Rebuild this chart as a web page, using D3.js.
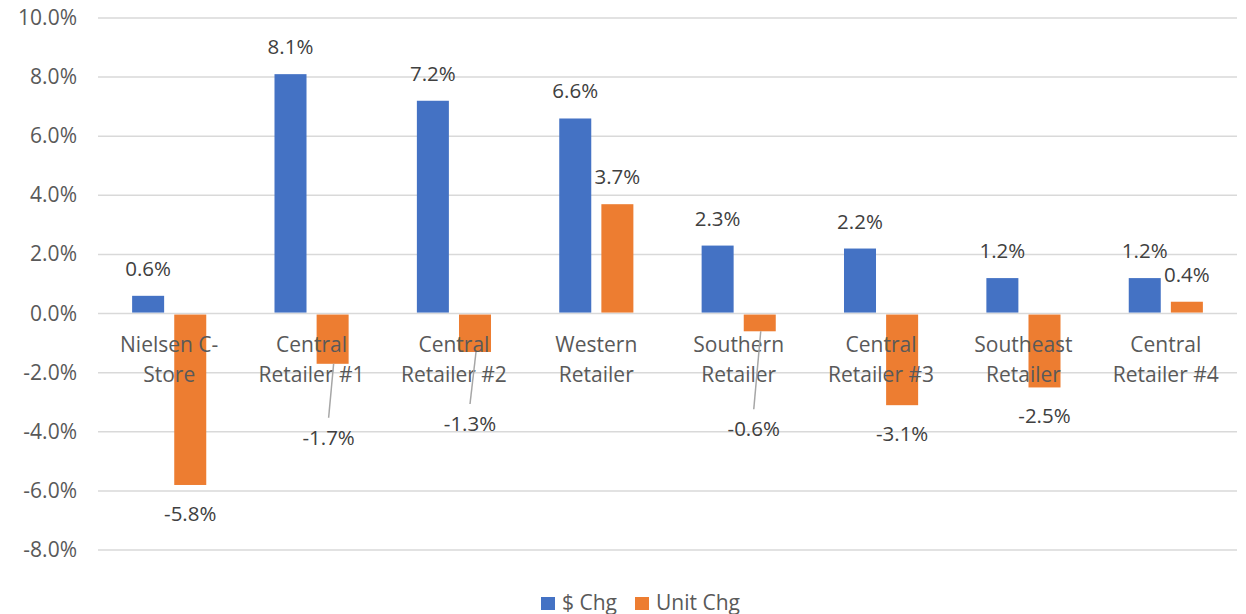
<!DOCTYPE html>
<meta charset="utf-8">
<title>Sales change by retailer</title>
<script src="https://d3js.org/d3.v7.min.js"></script>
<style>
  body { margin: 0; background: #fff; }
  text { font-family: "Open Sans", sans-serif; }
</style>
<body>
<div id="chart"></div>
<script>
// data
var categories = [
  ["Nielsen C-", "Store"],
  ["Central", "Retailer #1"],
  ["Central", "Retailer #2"],
  ["Western", "Retailer"],
  ["Southern", "Retailer"],
  ["Central", "Retailer #3"],
  ["Southeast", "Retailer"],
  ["Central", "Retailer #4"]
];
var seriesNames = ["$ Chg", "Unit Chg"];
var dollarChg = [0.6, 8.1, 7.2, 6.6, 2.3, 2.2, 1.2, 1.2];
var unitChg = [-5.8, -1.7, -1.3, 3.7, -0.6, -3.1, -2.5, 0.4];
var yTicks = [-8, -6, -4, -2, 0, 2, 4, 6, 8, 10];

// labels that were dragged away from their bars (with leader lines), in px
var labelNudge = { "1-1": [-4, 45], "1-2": [-5, 43], "1-4": [-6, 69] };

var colors = ["#4472C4", "#ED7D31"];
var W = 1246, H = 614;
// plot area (note: "top" is a reserved window global, so prefix these)
var plotL = 98, plotR = 1237, plotT = 18, plotB = 550;

var svg = d3.select("#chart").append("svg")
    .attr("width", W)
    .attr("height", H);

var y = d3.scaleLinear().domain([-8, 10]).range([plotB, plotT]);

var x0 = d3.scaleBand()
    .domain(d3.range(categories.length))
    .range([plotL, plotR]);

var x1 = d3.scaleBand()
    .domain([0, 1])
    .range([0, x0.bandwidth()])
    .paddingInner(0.24)
    .paddingOuter(0.81);

// gridlines + y labels
svg.append("g").selectAll("line")
    .data(yTicks)
    .join("line")
    .attr("x1", plotL).attr("x2", plotR)
    .attr("y1", function(d) { return y(d); })
    .attr("y2", function(d) { return y(d); })
    .attr("stroke", "#d9d9d9")
    .attr("stroke-width", 1.5);

svg.append("g").selectAll("text")
    .data(yTicks)
    .join("text")
    .attr("x", 77)
    .attr("y", function(d) { return y(d) + 7; })
    .attr("text-anchor", "end")
    .attr("font-size", 21)
    .attr("fill", "#595959")
    .text(function(d) { return d.toFixed(1) + "%"; });

// bars
var series = [dollarChg, unitChg];
var flat = [];
series.forEach(function(vals, s) {
  vals.forEach(function(v, i) { flat.push({ s: s, i: i, v: v }); });
});

svg.append("g").selectAll("rect")
    .data(flat)
    .join("rect")
    .attr("x", function(d) { return x0(d.i) + x1(d.s); })
    .attr("width", x1.bandwidth())
    .attr("y", function(d) { return d.v >= 0 ? y(d.v) : y(0) + 1; })
    .attr("height", function(d) { return Math.abs(y(d.v) - y(0)) - 1; })
    .attr("fill", function(d) { return colors[d.s]; });

// category labels
var cat = svg.append("g").selectAll("text")
    .data(categories)
    .join("text")
    .attr("text-anchor", "middle")
    .attr("font-size", 21)
    .attr("fill", "#595959");
cat.each(function(lines, i) {
  var t = d3.select(this);
  lines.forEach(function(l, k) {
    t.append("tspan")
      .attr("x", x0(i) + x0.bandwidth() / 2)
      .attr("y", 352 + k * 30)
      .text(l);
  });
});

// data labels
flat.forEach(function(d) {
  var cx = x0(d.i) + x1(d.s) + x1.bandwidth() / 2;
  var by = d.v >= 0 ? y(d.v) - 20 : y(d.v) + 36;
  var n = labelNudge[d.s + "-" + d.i];
  if (n) {
    var lx = cx + n[0], ly = by + n[1];
    svg.append("line")
      .attr("x1", cx + 1).attr("y1", y(d.v))
      .attr("x2", lx).attr("y2", ly - 27)
      .attr("stroke", "#a6a6a6")
      .attr("stroke-width", 1.5);
    cx = lx; by = ly;
  }
  svg.append("text")
    .attr("x", cx)
    .attr("y", by)
    .attr("text-anchor", "middle")
    .attr("font-size", 20.5)
    .attr("fill", "#404040")
    .text(d.v.toFixed(1) + "%");
});

// legend
var legend = svg.append("g");
var legX = [541, 635];
seriesNames.forEach(function(name, s) {
  legend.append("rect")
    .attr("x", legX[s]).attr("y", 597)
    .attr("width", 14).attr("height", 13)
    .attr("fill", colors[s]);
  legend.append("text")
    .attr("x", legX[s] + 21).attr("y", 610)
    .attr("font-size", 21)
    .attr("fill", "#595959")
    .text(name);
});
</script>
</body>
